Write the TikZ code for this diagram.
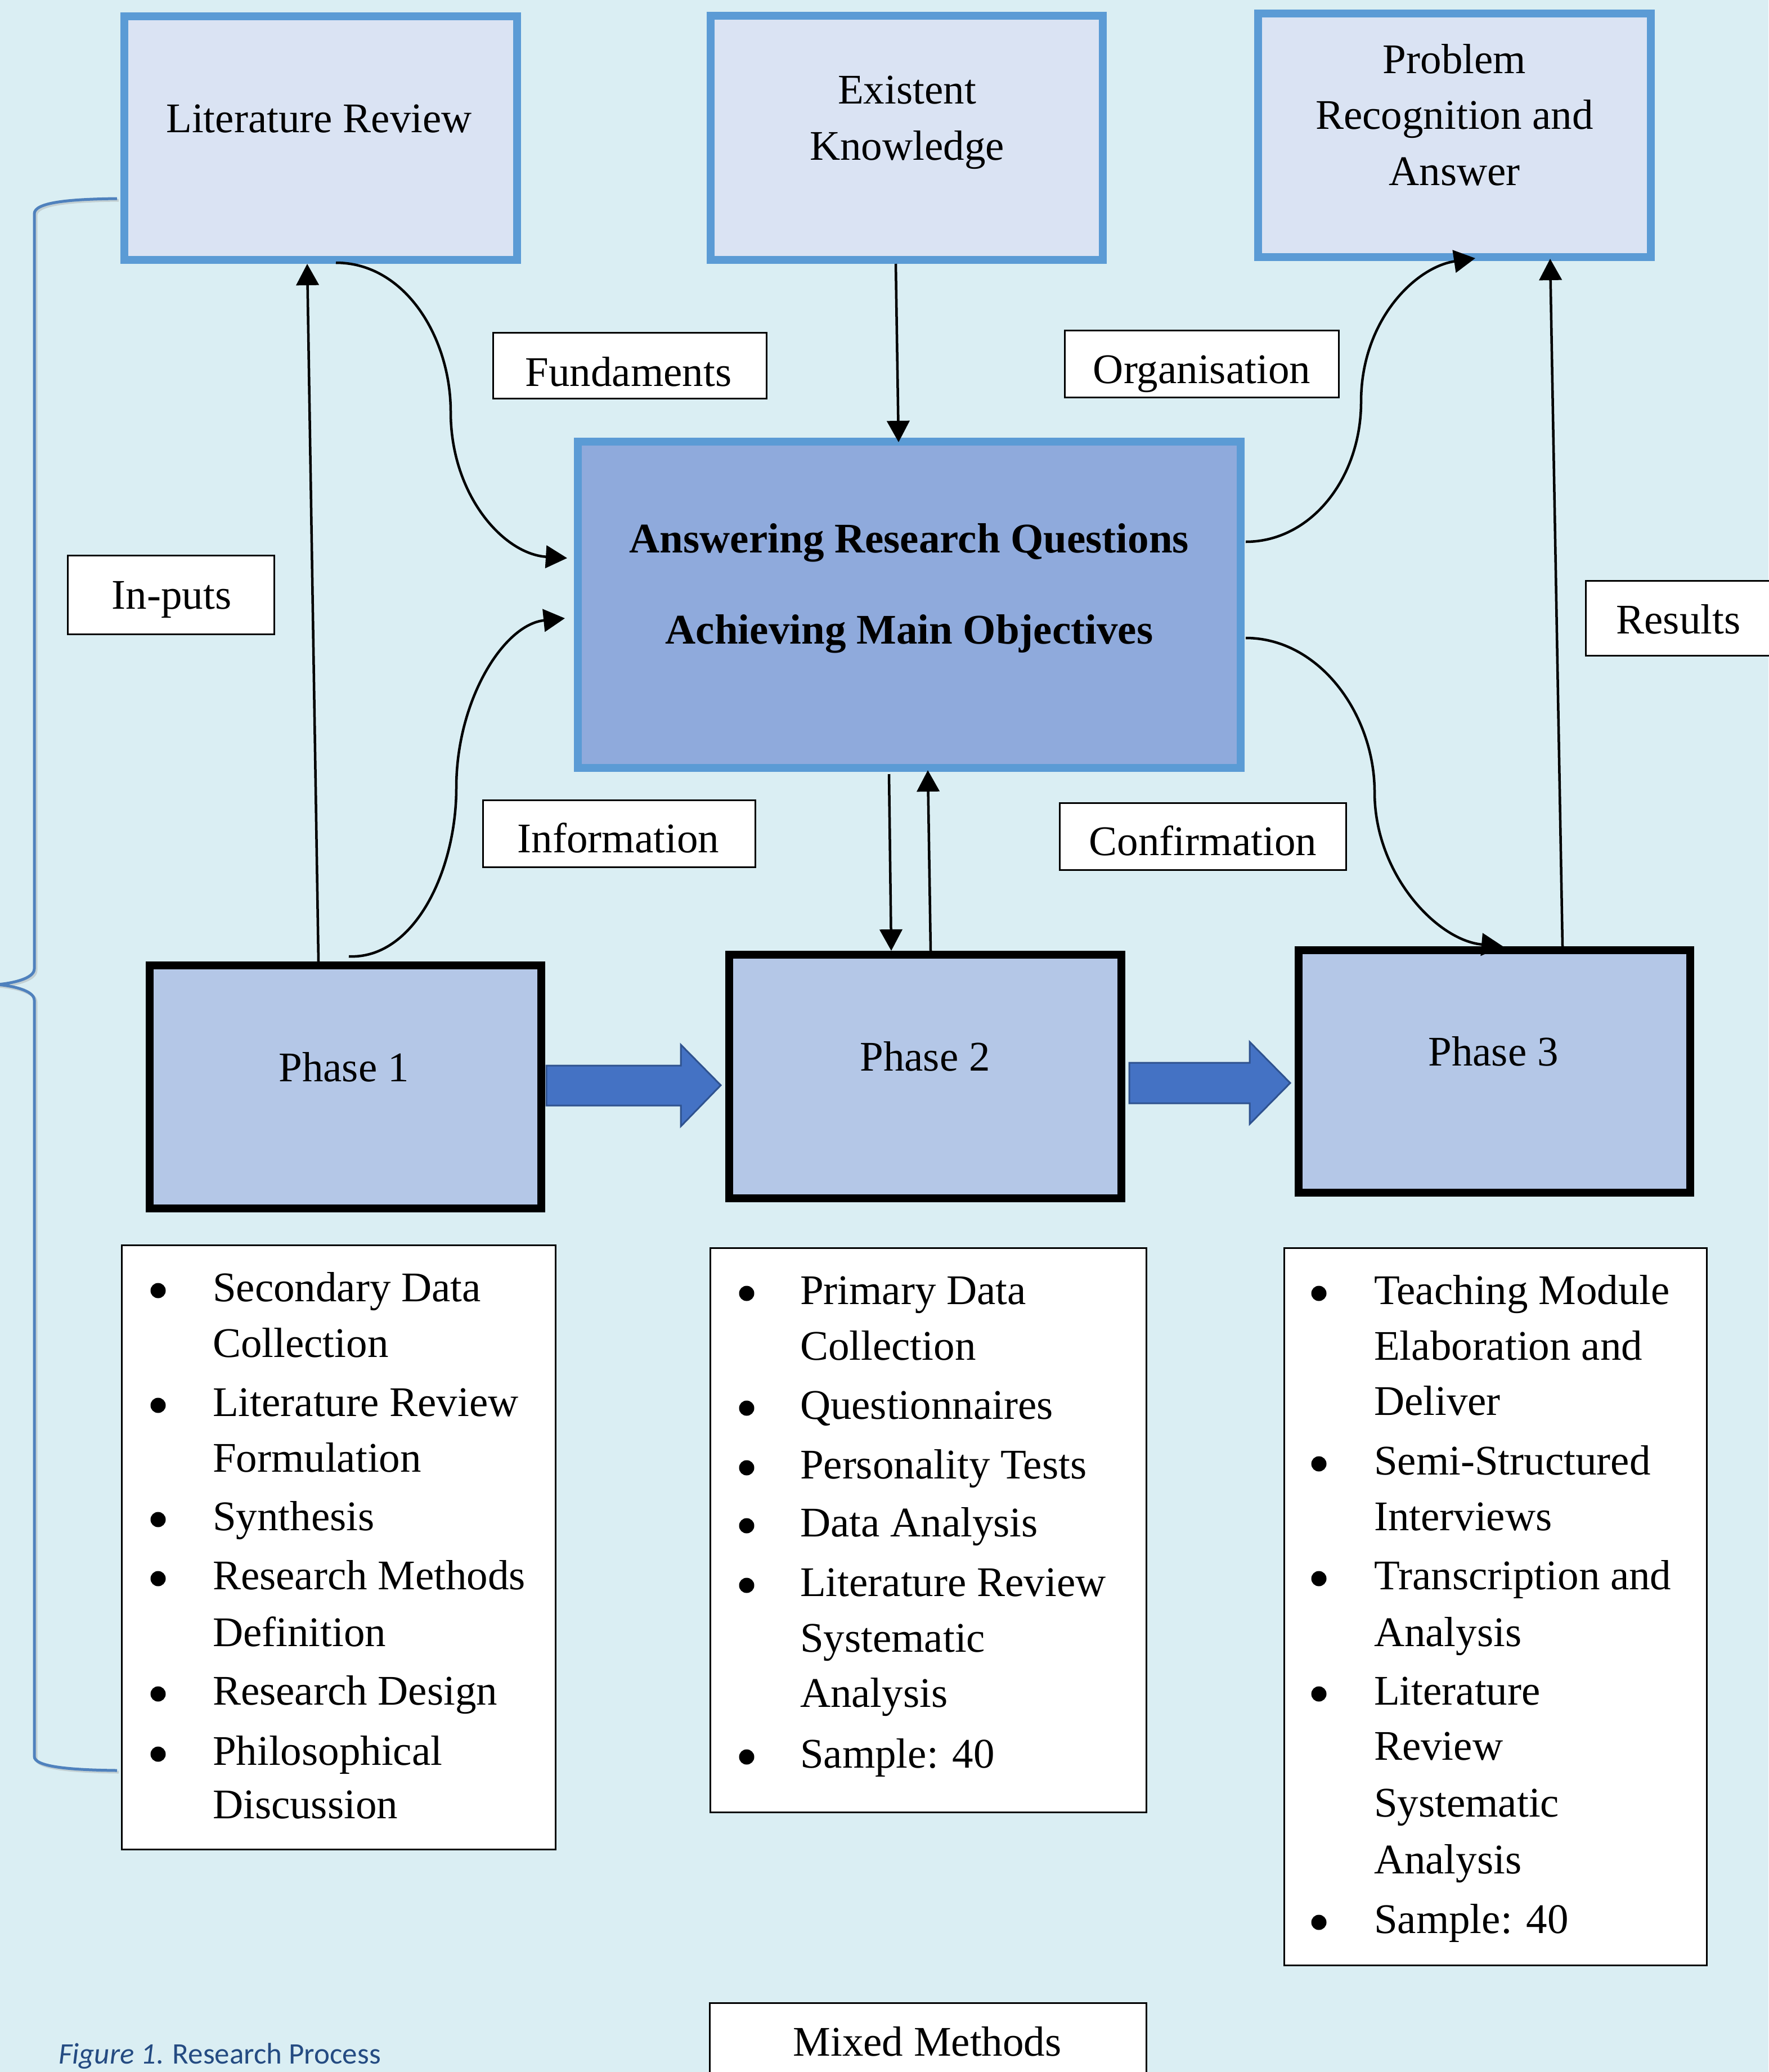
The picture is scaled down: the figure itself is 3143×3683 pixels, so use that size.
\documentclass[tikz,border=0pt]{standalone}
\usepackage{fontspec}
\setmainfont{Liberation Serif}
\newfontfamily\capfont{Carlito}
\usetikzlibrary{arrows.meta,calc}
\definecolor{bg}{RGB}{218,238,243}
\definecolor{bordblue}{RGB}{91,155,213}
\definecolor{topfill}{RGB}{218,227,243}
\definecolor{centfill}{RGB}{143,170,220}
\definecolor{phasefill}{RGB}{180,199,231}
\definecolor{arrowblue}{RGB}{68,114,196}
\definecolor{arrowdark}{RGB}{47,82,143}
\definecolor{bracecol}{RGB}{79,129,189}
\definecolor{capcol}{RGB}{36,75,130}
\tikzset{
  topbox/.style={draw=bordblue, line width=14pt, fill=topfill, inner sep=0pt},
  centbox/.style={draw=bordblue, line width=14pt, fill=centfill, inner sep=0pt},
  phasebox/.style={draw=black, line width=14pt, fill=phasefill, inner sep=0pt},
  lblbox/.style={draw=black, line width=3pt, fill=white, inner sep=0pt},
  txt/.style={font=\fontsize{75}{90}\selectfont, inner sep=0pt, outer sep=0pt, anchor=base},
  btxt/.style={font=\fontsize{75}{90}\selectfont\bfseries, inner sep=0pt, outer sep=0pt, anchor=base},
  ltxt/.style={font=\fontsize{75}{90}\selectfont, inner sep=0pt, outer sep=0pt, anchor=base west},
  conn/.style={line width=4.5pt, -{Triangle[length=38pt,width=40pt]}},
  blockarrow/.style={fill=arrowblue, draw=arrowdark, line width=3pt, line join=miter},
  bracestyle/.style={draw=bracecol, line width=5pt}
}
\begin{document}
\begin{tikzpicture}[x=1pt,y=-1pt]
\useasboundingbox (0,0) rectangle (3143,3683);
\fill[bg] (0,0) rectangle (3143,3683);

% ---- top boxes
\node[topbox, minimum width=698pt, minimum height=433pt] (lit) at (570,245.5) {};
\node[topbox, minimum width=697pt, minimum height=434pt] (ek) at (1611.5,245) {};
\node[topbox, minimum width=698pt, minimum height=433pt] (prob) at (2585,240.5) {};
\node[txt] (litT) at (567,235) {Literature Review};
\node[txt] (ekT1) at (1612,184) {Existent};
\node[txt] (ekT2) at (1612,284) {Knowledge};
\node[txt] (probT1) at (2585,130) {Problem};
\node[txt] (probT2) at (2585,229) {Recognition and};
\node[txt] (probT3) at (2585,329) {Answer};

% ---- central box
\node[centbox, minimum width=1178pt, minimum height=580pt] (cent) at (1616,1075) {};
\node[btxt] (centT1) at (1616,982) {Answering Research Questions};
\node[btxt] (centT2) at (1616,1144) {Achieving Main Objectives};

% ---- phases
\node[phasebox, minimum width=696pt, minimum height=432pt] (p1) at (614,1932) {};
\node[phasebox, minimum width=697pt, minimum height=433pt] (p2) at (1644.5,1913.5) {};
\node[phasebox, minimum width=696pt, minimum height=431pt] (p3) at (2656,1904.5) {};
\node[txt] (p1T) at (611,1922) {Phase 1};
\node[txt] (p2T) at (1644,1903) {Phase 2};
\node[txt] (p3T) at (2654,1894) {Phase 3};

% ---- label boxes
\node[lblbox, minimum width=486pt, minimum height=117pt] (fund) at (1119.5,650) {};
\node[txt] (fundT) at (1117,686) {Fundaments};
\node[lblbox, minimum width=487pt, minimum height=119pt] (org) at (2136,647) {};
\node[txt] (orgT) at (2136,681) {Organisation};
\node[lblbox, minimum width=367pt, minimum height=140pt] (inp) at (304,1057.5) {};
\node[txt] (inpT) at (305,1082) {In-puts};
\node[lblbox, minimum width=340pt, minimum height=133pt] (res) at (2988.5,1099) {};
\node[txt] (resT) at (2983,1126) {Results};
\node[lblbox, minimum width=484pt, minimum height=119pt] (info) at (1100.5,1482) {};
\node[txt] (infoT) at (1099,1515) {Information};
\node[lblbox, minimum width=509pt, minimum height=119pt] (conf) at (2138,1487) {};
\node[txt] (confT) at (2138,1520) {Confirmation};

% ---- lists
\node[lblbox, minimum width=771pt, minimum height=1074pt] (l1) at (602,2750.5) {};
\node[lblbox, minimum width=775pt, minimum height=1003pt] (l2) at (1650,2720) {};
\node[lblbox, minimum width=751pt, minimum height=1275pt] (l3) at (2658,2856) {};
\node[lblbox, minimum width=776pt, minimum height=138pt] (mm) at (1649.5,3629.5) {};
\node[txt] (mmT) at (1648,3654) {Mixed Methods};

\foreach \yy/\tt [count=\i] in {2313/Secondary Data, 2412/Collection, 2517/Literature Review, 2616/Formulation, 2720/Synthesis, 2825/Research Methods, 2926/Definition, 3030/Research Design, 3137/Philosophical, 3232/Discussion}
  \node[ltxt] (l1t\i) at (378,\yy) {\tt};
\foreach \yy in {2313,2517,2720,2825,3030,3137}
  \fill (281,\yy-19) circle[radius=13.5pt];

\foreach \yy/\tt [count=\i] in {2318/Primary Data, 2417/Collection, 2522/Questionnaires, 2628/Personality Tests, 2731/Data Analysis, 2837/Literature Review, 2936/Systematic, 3034/Analysis, 3142/Sample: 40}
  \node[ltxt] (l2t\i) at (1422,\yy) {\tt};
\foreach \yy in {2318,2522,2628,2731,2837,3142}
  \fill (1327,\yy-19) circle[radius=13.5pt];

\foreach \yy/\tt [count=\i] in {2318/Teaching Module, 2417/Elaboration and, 2515/Deliver, 2621/Semi-Structured, 2720/Interviews, 2825/Transcription and, 2926/Analysis, 3030/Literature, 3128/Review, 3229/Systematic, 3330/Analysis, 3436/Sample: 40}
  \node[ltxt] (l3t\i) at (2442,\yy) {\tt};
\foreach \yy in {2318,2621,2825,3030,3436}
  \fill (2344,\yy-19) circle[radius=13.5pt];

% ---- block arrows between phases
\draw[blockarrow] ([xshift=2pt,yshift=38pt]p1.east) -- ++(239,0) -- ++(0,-37) -- ++(71,72) -- ++(-71,73) -- ++(0,-37) -- ++(-239,0) -- cycle;
\draw[blockarrow] ([xshift=7pt,yshift=24.5pt]p2.east) -- ++(214,0) -- ++(0,-37) -- ++(72,73) -- ++(-72,73) -- ++(0,-37) -- ++(-214,0) -- cycle;

% ---- straight connectors
\draw[conn] ([xshift=-48pt]p1.north) -- ([xshift=-24pt]lit.south);
\draw[conn] ([xshift=-19.5pt]ek.south) -- ([xshift=-19pt,yshift=-8pt]cent.north);
\draw[conn] ([xshift=121pt]p3.north) -- ([xshift=170pt,yshift=4pt]prob.south);
\draw[conn] ([xshift=-36pt,yshift=-4pt]cent.south) -- ([xshift=-60.5pt]p2.north);
\draw[conn] ([xshift=9.5pt]p2.north) -- ([xshift=33pt,yshift=3pt]cent.south);

% ---- curved connectors
\draw[conn] ([xshift=27pt,yshift=2pt]lit.south) .. controls (720,467) and (801,600) .. (801,732)
   .. controls (801,880) and (895,985) .. ([xshift=-12pt,yshift=83pt]cent.west);
\draw[conn] ([xshift=6pt,yshift=9pt]p1.north) .. controls (735,1705) and (811,1550) .. (811,1400)
   .. controls (811,1245) and (895,1110) .. ([xshift=-16pt,yshift=-24pt]cent.west);
\draw[conn] ([xshift=2pt,yshift=112pt]cent.east) .. controls (2330,963) and (2419,850) .. (2419,714)
   .. controls (2419,570) and (2515,475) .. ([xshift=37pt,yshift=5pt]prob.south);
\draw[conn] ([xshift=2pt,yshift=-59pt]cent.east) .. controls (2345,1134) and (2443,1270) .. (2443,1408)
   .. controls (2443,1555) and (2555,1672) .. ([xshift=15pt]p3.north);

% ---- brace
\path[draw=black!40, line width=5pt, opacity=0.35] (211,356) .. controls (123,357) and (64,363) .. (64,383) -- (64,1725)
  .. controls (64,1743) and (23,1751) .. (-2,1753) .. controls (23,1755) and (64,1763) .. (64,1781) -- (64,3125)
  .. controls (64,3143) and (123,3149) .. (211,3150);
\path[bracestyle] (208,353) .. controls (120,354) and (61,360) .. (61,380) -- (61,1722)
  .. controls (61,1740) and (20,1748) .. (-5,1750) .. controls (20,1752) and (61,1760) .. (61,1778) -- (61,3122)
  .. controls (61,3140) and (120,3146) .. (208,3147);

% ---- caption
\node[font=\capfont\fontsize{53}{60}\selectfont, text=capcol, inner sep=0pt, anchor=base west] (cap) at (104,3668) {\textit{Figure 1}. Research Process};
\end{tikzpicture}
\end{document}
